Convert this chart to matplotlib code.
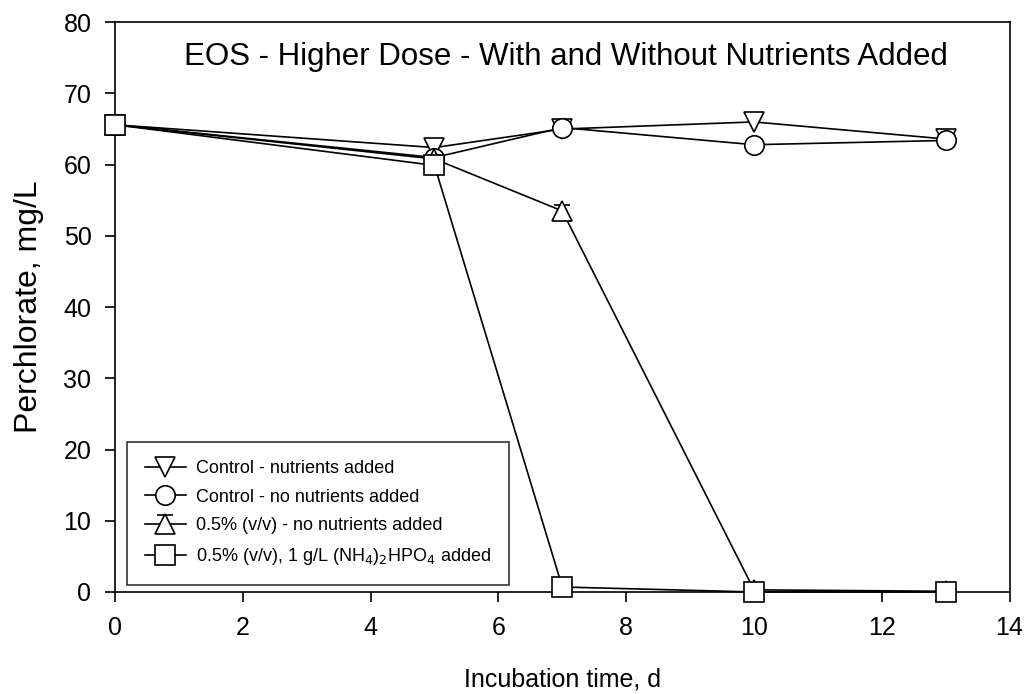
import matplotlib
matplotlib.use("Agg")
from matplotlib import pyplot as plt

plt.rcParams['font.family'] = ['Liberation Sans', 'DejaVu Sans']

days = [0, 5, 7, 10, 13]

ctrl_nutr = [65.6, 62.4, 65.0, 66.0, 63.6]
ctrl_no_nutr = [65.6, 61.0, 65.2, 62.8, 63.4]
eos_no_nutr = [65.6, 60.8, 53.5, 0.3, 0.1]
eos_nutr = [65.6, 59.9, 0.7, 0.0, 0.0]

eos_no_nutr_err = [0.3, 0.5, 0.9, 0.4, 0.4]
eos_nutr_err = [0.4, 0.5, 0.3, 0.3, 0.3]

labels = ["Control - nutrients added",
          "Control - no nutrients added",
          "0.5% (v/v) - no nutrients added",
          r"0.5% (v/v), 1 g/L (NH$_4$)$_2$HPO$_4$ added"]

fig = plt.figure(figsize=(10.27, 6.94), dpi=100)
ax = fig.add_axes([0.112, 0.147, 0.871, 0.821])

style = dict(color="black", mfc="white", mec="black", lw=1.2, ms=14, mew=1.2,
             clip_on=False)
ax.plot(days, ctrl_nutr, marker="v", label=labels[0], zorder=3, **style)
ax.plot(days, ctrl_no_nutr, marker="o", label=labels[1], zorder=3, **style)
ax.errorbar(days, eos_no_nutr, yerr=eos_no_nutr_err, marker="^", capsize=6,
            ecolor="black", elinewidth=1, label=labels[2], zorder=4, **style)
ax.errorbar(days, eos_nutr, yerr=eos_nutr_err, marker="s", capsize=6,
            ecolor="black", elinewidth=1, label=labels[3], zorder=5, **style)

ax.set_xlim(0, 14)
ax.set_ylim(0, 80)
ax.set_xticks(range(0, 15, 2))
ax.set_yticks(range(0, 81, 10))
ax.tick_params(direction="out", length=7, width=1.2, labelsize=18, pad=10)
for s in ax.spines.values():
    s.set_linewidth(1.2)

ax.set_xlabel("Incubation time, d", fontsize=18, labelpad=20)
ax.set_ylabel("Perchlorate, mg/L", fontsize=23, labelpad=14)
ax.text(7.05, 75.1, "EOS - Higher Dose - With and Without Nutrients Added",
        ha="center", va="center", fontsize=22.5)

leg = ax.legend(loc="lower left", bbox_to_anchor=(0.013, 0.012),
                borderaxespad=0, fontsize=13,
                frameon=True, fancybox=False, edgecolor="black",
                handlelength=2.3, handletextpad=0.55, borderpad=1.0,
                labelspacing=0.65, markerscale=1.0, numpoints=1)
leg.get_frame().set_linewidth(1.2)
leg.set_zorder(6)

fig.savefig("out.png", dpi=100)
